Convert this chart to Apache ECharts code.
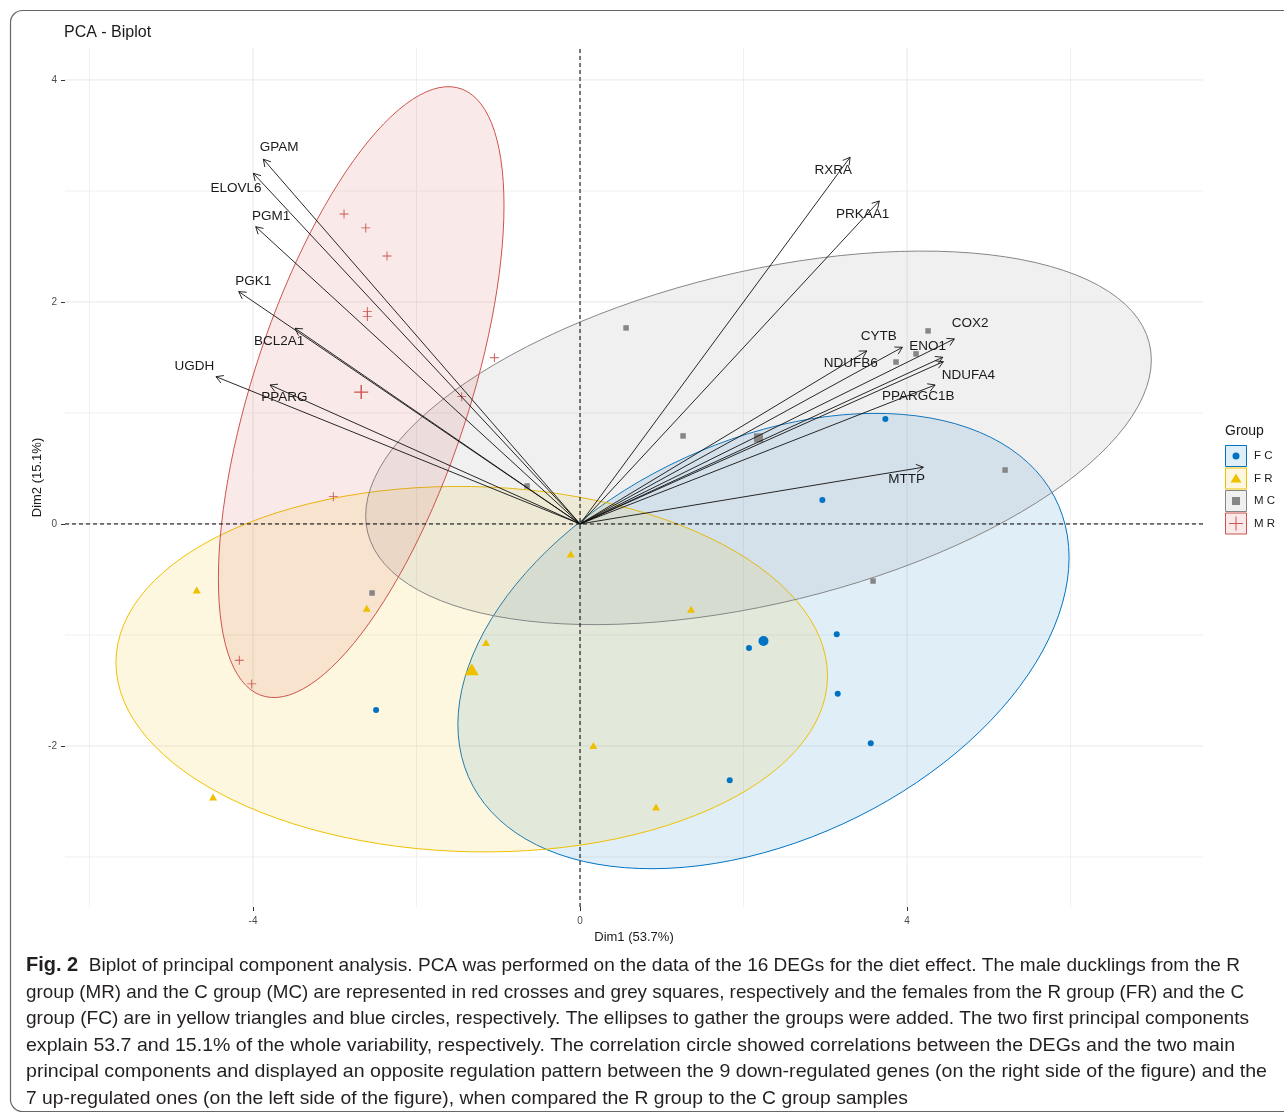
<!DOCTYPE html>
<html><head><meta charset="utf-8">
<script src="https://cdn.jsdelivr.net/npm/echarts@6.0.0/dist/echarts.min.js"></script>
<style>html,body{margin:0;padding:0;background:#fff}#c{width:1284px;height:1117px}</style>
</head><body><div id="c"></div><script>
// ---------------- data ----------------
const groups = ['F C', 'F R', 'M C', 'M R'];
const groupColors = ['#0073C2', '#EFC000', '#868686', '#CD534C'];

const fcX = [3.735, 2.964, 3.140, 2.067, 3.152, 3.556, 1.831, -2.495];
const fcY = [0.946, 0.216, -0.994, -1.117, -1.529, -1.976, -2.309, -1.676];
const frX = [-4.689, -4.489, -2.609, -1.150, -0.114, 1.358, 0.163, 0.930];
const frY = [-0.595, -2.459, -0.759, -1.069, -0.270, -0.768, -1.997, -2.550];
const mcX = [0.563, 1.260, 4.257, 4.110, 3.865, 5.199, 3.584, -0.648, -2.544];
const mcY = [1.766, 0.793, 1.739, 1.532, 1.459, 0.486, -0.514, 0.342, -0.622];
const mrX = [-2.887, -2.621, -2.361, -2.602, -2.602, -1.048, -1.447, -3.018, -4.168, -4.016];
const mrY = [2.793, 2.667, 2.414, 1.913, 1.868, 1.498, 1.147, 0.246, -1.228, -1.441];

const genes = ['GPAM','ELOVL6','PGM1','PGK1','BCL2A1','UGDH','PPARG',
               'RXRA','PRKAA1','COX2','CYTB','NDUFB6','ENO1','NDUFA4','PPARGC1B','MTTP'];
const geneX = [-3.874,-3.996,-3.967,-4.175,-3.486,-4.453,-3.792,
               3.303,3.661,4.579,3.943,3.507,4.437,4.444,4.343,4.199];
const geneY = [3.286,3.159,2.678,2.093,1.763,1.327,1.252,
               3.304,2.910,1.667,1.592,1.559,1.502,1.462,1.252,0.511];
// repelled label anchor positions (data units)
const labelX = [-3.682,-4.208,-3.780,-3.996,-3.682,-4.716,-3.617,
                3.098,3.458,4.771,3.654,3.311,4.253,4.750,4.138,3.996];
const labelY = [3.394,3.024,2.768,2.183,1.642,1.423,1.138,
                3.189,2.793,1.808,1.687,1.448,1.597,1.342,1.147,0.403];

const xTicks = [-4, 0, 4];
const yTicks = [-2, 0, 2, 4];
const xMinor = [-6, -2, 2, 6];
const yMinor = [-3, -1, 1, 3];

const xName = 'Dim1 (53.7%)';
const yName = 'Dim2 (15.1%)';
const titleText = 'PCA - Biplot';
const legendTitle = 'Group';
const ellipseLevel = 0.75;

const captionBold = 'Fig. 2';
const captionLines = [
  '  Biplot of principal component analysis. PCA was performed on the data of the 16 DEGs for the diet effect. The male ducklings from the R',
  'group (MR) and the C group (MC) are represented in red crosses and grey squares, respectively and the females from the R group (FR) and the C',
  'group (FC) are in yellow triangles and blue circles, respectively. The ellipses to gather the groups were added. The two first principal components',
  'explain 53.7 and 15.1% of the whole variability, respectively. The correlation circle showed correlations between the DEGs and the two main',
  'principal components and displayed an opposite regulation pattern between the 9 down-regulated genes (on the right side of the figure) and the',
  '7 up-regulated ones (on the left side of the figure), when compared the R group to the C group samples'
];

// ---------------- helpers ----------------
const gX = [fcX, frX, mcX, mrX];
const gY = [fcY, frY, mcY, mrY];
function mean(a){ return a.reduce((s,v)=>s+v,0)/a.length; }
function ellipsePts(xs, ys, level){
  const n = xs.length, mx = mean(xs), my = mean(ys);
  let sxx=0, syy=0, sxy=0;
  for (let i=0;i<n;i++){ const dx=xs[i]-mx, dy=ys[i]-my; sxx+=dx*dx; syy+=dy*dy; sxy+=dx*dy; }
  sxx/=(n-1); syy/=(n-1); sxy/=(n-1);
  const d = n-1;
  const q = (d/2)*(Math.pow(1-level, -2/d) - 1); // qf(level, 2, d)
  const r = Math.sqrt(2*q);
  const r11 = Math.sqrt(sxx), r12 = sxy/r11, r22 = Math.sqrt(syy - r12*r12);
  const pts = [];
  for (let k=0;k<=120;k++){
    const t = 2*Math.PI*k/120, c=Math.cos(t), s=Math.sin(t);
    pts.push([mx + r*c*r11, my + r*(c*r12 + s*r22)]);
  }
  return pts;
}
const ellipses = groups.map((g,i)=>ellipsePts(gX[i], gY[i], ellipseLevel));
function hexA(hex, a){
  const n = parseInt(hex.slice(1),16);
  return 'rgba('+((n>>16)&255)+','+((n>>8)&255)+','+(n&255)+','+a+')';
}

const crossPath = 'path://M0,4.5H10V5.5H0Z M4.5,0H5.5V10H4.5Z';
const symbols = ['circle', 'triangle', 'rect', crossPath];
const symSize = [6, [8,7], 5.5, 9];
const meanSize = [10, [14,12], 9, 14];

const X0 = -6.3, X1 = 7.62, Y0 = -3.451, Y1 = 4.288;
const FONT = '"Liberation Sans", Arial, sans-serif';

// ---------------- chart ----------------
const chart = echarts.init(document.getElementById('c'), null, {renderer:'canvas'});
const series = [];

// grid lines
const gridData = [];
xMinor.forEach(v=>gridData.push([v,0,0])); yMinor.forEach(v=>gridData.push([0,v,1]));
xTicks.forEach(v=>gridData.push([v,0,2])); yTicks.forEach(v=>gridData.push([0,v,3]));
series.push({
  type:'custom', z:0, silent:true, data:gridData,
  encode:{x:0, y:1},
  renderItem:(p, api)=>{
    const kind = api.value(2), x = api.value(0), y = api.value(1);
    let a, b;
    if (kind===0 || kind===2){ a = api.coord([x, Y0]); b = api.coord([x, Y1]); }
    else { a = api.coord([X0, y]); b = api.coord([X1, y]); }
    return {type:'line', shape:{x1:a[0],y1:a[1],x2:b[0],y2:b[1]},
      style:{stroke: kind<2 ? '#F0F0F0' : '#E8E8E8', lineWidth:1}};
  }
});

// ellipses
series.push({
  type:'custom', z:1, silent:true,
  data: groups.map((g,i)=>[mean(gX[i]), mean(gY[i]), i]),
  renderItem:(p, api)=>{
    const i = api.value(2);
    const pts = ellipses[i].map(q=>api.coord(q));
    return {type:'polygon', shape:{points:pts},
      style:{fill:hexA(groupColors[i],0.12), stroke:groupColors[i], lineWidth:1}};
  }
});

// dashed zero lines
series.push({
  type:'custom', z:2, silent:true, data:[[0,0]],
  renderItem:(p, api)=>{
    const a = api.coord([0, Y0]), b = api.coord([0, Y1]);
    const c = api.coord([X0, 0]), d = api.coord([X1, 0]);
    return {type:'group', children:[
      {type:'line', shape:{x1:a[0],y1:a[1],x2:b[0],y2:b[1]}, style:{stroke:'#000', lineWidth:1, lineDash:[4,3]}},
      {type:'line', shape:{x1:c[0],y1:c[1],x2:d[0],y2:d[1]}, style:{stroke:'#000', lineWidth:1, lineDash:[4,3]}}
    ]};
  }
});

// points
groups.forEach((g,i)=>{
  series.push({
    type:'scatter', name:g, z:3, silent:true,
    symbol:symbols[i], symbolSize:symSize[i],
    itemStyle:{color:groupColors[i], opacity:1},
    data: gX[i].map((v,k)=>[v, gY[i][k]])
  });
  series.push({
    type:'scatter', z:3, silent:true,
    symbol:symbols[i], symbolSize:meanSize[i],
    itemStyle:{color:groupColors[i], opacity:1},
    data: [[mean(gX[i]), mean(gY[i])]]
  });
});

// arrows
series.push({
  type:'custom', z:4, silent:true,
  data: genes.map((g,i)=>[geneX[i], geneY[i]]),
  renderItem:(p, api)=>{
    const tip = api.coord([api.value(0), api.value(1)]);
    const o = api.coord([0,0]);
    const ang = Math.atan2(tip[1]-o[1], tip[0]-o[0]);
    const L = 8, h = Math.PI/6;
    const p1 = [tip[0]-L*Math.cos(ang-h), tip[1]-L*Math.sin(ang-h)];
    const p2 = [tip[0]-L*Math.cos(ang+h), tip[1]-L*Math.sin(ang+h)];
    return {type:'group', children:[
      {type:'line', shape:{x1:o[0],y1:o[1],x2:tip[0],y2:tip[1]}, style:{stroke:'#111', lineWidth:0.9}},
      {type:'polyline', shape:{points:[p1,tip,p2]}, style:{stroke:'#111', fill:null, lineWidth:0.9}}
    ]};
  }
});

// gene labels
series.push({
  type:'custom', z:5, silent:true,
  data: genes.map((g,i)=>[labelX[i], labelY[i], i]),
  renderItem:(p, api)=>{
    const c = api.coord([api.value(0), api.value(1)]);
    return {type:'text', x:c[0], y:c[1], style:{text:genes[api.value(2)], fill:'#1a1a1a',
      font:'13.5px '+FONT, textAlign:'center', textVerticalAlign:'middle'}};
  }
});

// legend, title, frame, caption graphics
const graphic = [];
graphic.push({type:'rect', shape:{x:10.5, y:10.5, width:1300, height:1101, r:12},
  style:{fill:null, stroke:'#666', lineWidth:1.2}, silent:true, z:100});
graphic.push({type:'text', x:64, y:33, style:{text:titleText, fill:'#1a1a1a',
  font:'16px '+FONT, textVerticalAlign:'middle'}});
graphic.push({type:'text', x:1225, y:431, style:{text:legendTitle, fill:'#1a1a1a',
  font:'14px '+FONT, textVerticalAlign:'middle'}});
const legSym = [
  (cx,cy,c)=>({type:'circle', shape:{cx,cy,r:3.5}, style:{fill:c}}),
  (cx,cy,c)=>({type:'polygon', shape:{points:[[cx,cy-5],[cx+5.5,cy+4],[cx-5.5,cy+4]]}, style:{fill:c}}),
  (cx,cy,c)=>({type:'rect', shape:{x:cx-4,y:cy-4,width:8,height:8}, style:{fill:c}}),
  (cx,cy,c)=>({type:'group', children:[
     {type:'line', shape:{x1:cx-7,y1:cy,x2:cx+7,y2:cy}, style:{stroke:c, lineWidth:1}},
     {type:'line', shape:{x1:cx,y1:cy-7,x2:cx,y2:cy+7}, style:{stroke:c, lineWidth:1}}]})
];
groups.forEach((g,i)=>{
  const cy = 456 + i*22.5, cx = 1236;
  graphic.push({type:'rect', shape:{x:1225.5, y:cy-10.5, width:21, height:21},
    style:{fill:hexA(groupColors[i],0.12), stroke:groupColors[i], lineWidth:1}});
  graphic.push(legSym[i](cx, cy, groupColors[i]));
  graphic.push({type:'text', x:1254, y:cy, style:{text:g, fill:'#1a1a1a',
    font:'11.5px '+FONT, textVerticalAlign:'middle'}});
});

// caption: each line horizontally fitted to the reference line length
const capSize = 18.5;
const capEnds = [1240, 1244, 1249, 1235, 1267, 908];
const capYs = [966, 992.5, 1019, 1045.5, 1072, 1098.5];
const cv = document.createElement('canvas').getContext('2d');
captionLines.forEach((t,i)=>{
  cv.font = capSize+'px '+FONT;
  let w = cv.measureText(t).width;
  if (i===0){ cv.font = 'bold '+(capSize*1.05)+'px '+FONT; w += cv.measureText(captionBold).width; }
  const sx = (capEnds[i]-26)/w;
  const st = {fill:'#231F20', font:capSize+'px '+FONT, textVerticalAlign:'middle'};
  if (i===0){
    st.text = '{b|'+captionBold+'}'+t;
    st.rich = {b:{fontWeight:'bold', fontSize:capSize*1.05, fontFamily:FONT, fill:'#231F20'}};
  } else st.text = t;
  graphic.push({type:'text', x:26, y:capYs[i], scaleX:sx, style:st});
});

const axisFont = {color:'#4D4D4D', fontSize:10, fontFamily:FONT};
chart.setOption({
  animation:false,
  grid:{left:65, top:48, width:1138, height:859, containLabel:false},
  xAxis:{type:'value', min:X0, max:X1,
    name:xName, nameLocation:'middle', nameGap:24, nameMoveOverlap:false,
    nameTextStyle:{color:'#1a1a1a', fontSize:13, fontFamily:FONT},
    axisLine:{show:false, onZero:false}, splitLine:{show:false},
    axisTick:{show:true, length:4, lineStyle:{color:'#333', width:1}, customValues:xTicks},
    axisLabel:Object.assign({margin:9, customValues:xTicks}, axisFont)},
  yAxis:{type:'value', min:Y0, max:Y1,
    name:yName, nameLocation:'middle', nameGap:21, nameRotate:90, nameMoveOverlap:false,
    nameTextStyle:{color:'#1a1a1a', fontSize:13, fontFamily:FONT},
    axisLine:{show:false, onZero:false}, splitLine:{show:false},
    axisTick:{show:true, length:4, lineStyle:{color:'#333', width:1}, customValues:yTicks},
    axisLabel:Object.assign({margin:8, customValues:yTicks}, axisFont)},
  series: series,
  graphic: graphic
});
</script></body></html>
